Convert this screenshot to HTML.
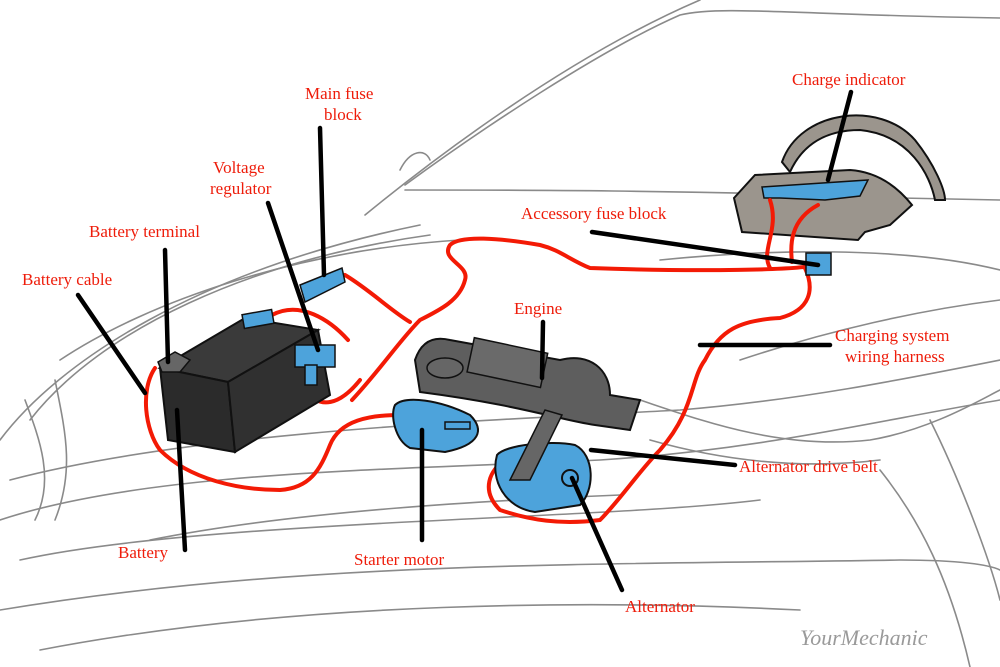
<!DOCTYPE html>
<html><head><meta charset="utf-8"><style>
html,body{margin:0;padding:0;background:#fff}
svg{display:block}
text{font-family:"Liberation Serif",serif;font-size:17px;fill:#ee1c0a}
</style></head><body>
<svg width="1000" height="667" viewBox="0 0 1000 667" xmlns="http://www.w3.org/2000/svg">
<g fill="none" stroke="#8a8a8a" stroke-width="1.6" stroke-linecap="round">
<!-- windshield / roof -->
<path d="M365,215 C420,170 560,60 700,0"/>
<path d="M405,185 C480,130 600,50 680,15 C720,5 800,15 1000,18"/>
<path d="M400,170 C410,150 425,148 430,160"/>
<path d="M405,190 C500,190 700,190 900,198 L1000,200"/>
<!-- hood edges -->
<path d="M0,440 C60,360 200,270 420,225"/>
<path d="M30,420 C100,330 250,260 430,235"/>
<path d="M60,360 C150,300 300,250 460,240"/>
<path d="M660,260 C760,250 900,245 1000,270"/>
<path d="M10,480 C200,430 500,420 680,410 C800,400 900,380 1000,360"/>
<path d="M0,520 C150,470 400,470 600,460 C760,450 880,420 1000,400"/>
<path d="M20,560 C200,520 600,520 760,500"/>
<path d="M0,610 C300,560 600,565 900,560 C960,560 990,565 1000,570"/>
<path d="M40,650 C300,600 600,600 800,610"/>
<path d="M25,400 C40,440 55,480 35,520"/>
<path d="M55,380 C65,430 75,470 55,520"/>
<path d="M640,400 C700,420 780,450 870,440 C930,430 980,400 1000,390"/>
<path d="M650,440 C720,460 800,470 880,460"/>
<path d="M880,470 C920,520 950,580 970,667"/>
<path d="M930,420 C960,480 990,560 1000,600"/>
<path d="M150,540 C300,510 500,500 620,495"/>
<path d="M740,360 C830,330 920,310 1000,300"/>
</g>
<!-- dashboard -->
<path d="M782,162 C800,110 880,100 915,140 C935,165 945,190 945,200 L935,200 C930,175 910,135 860,130 C820,130 800,150 790,172 Z" fill="#9b958d" stroke="#111" stroke-width="2"/>
<path d="M734,198 L755,175 L850,170 C880,172 900,190 912,205 L890,225 L865,232 L858,240 L742,232 Z" fill="#9b958d" stroke="#111" stroke-width="2"/>
<path d="M762,187 L868,180 L860,196 L825,200 L780,198 L764,198 Z" fill="#4da3db" stroke="#111" stroke-width="1.5"/>
<g fill="none" stroke="#f31a05" stroke-width="4" stroke-linecap="round">
<path d="M770,200 C780,230 760,250 770,268"/>
<path d="M818,205 C790,220 790,245 792,262"/>
<path d="M815,265 C800,270 700,272 590,268 C570,260 560,250 540,245 C500,238 460,235 450,245 C440,260 470,265 465,280 C460,300 440,310 420,320 C400,340 380,370 352,400"/>
<path d="M805,268 C815,290 810,310 780,318 C740,320 720,330 705,360 C690,380 695,410 660,450 C640,470 620,500 600,520 C560,525 530,520 500,510 C480,490 490,470 505,460"/>
<path d="M345,275 C370,290 390,310 410,322"/>
<path d="M272,315 C300,300 330,320 348,340"/>
<path d="M305,390 C320,410 340,405 360,380"/>
<path d="M155,368 C140,390 145,430 160,450 C190,480 240,490 280,490 C310,488 320,470 330,445 C340,420 370,415 400,415"/>
</g>
<!-- battery -->
<polygon points="160,368 245,318 318,330 228,382" fill="#3a3a3a" stroke="#111" stroke-width="2"/>
<polygon points="160,368 228,382 235,452 168,440" fill="#2b2b2b" stroke="#111" stroke-width="2"/>
<polygon points="228,382 318,330 330,395 235,452" fill="#303030" stroke="#111" stroke-width="2"/>
<rect x="243" y="312" width="30" height="14" fill="#4da3db" stroke="#111" stroke-width="1.5" transform="rotate(-10 258 319)"/>
<path d="M158,362 L175,352 L190,360 L180,372 L162,372 Z" fill="#666" stroke="#111" stroke-width="1.5"/>
<rect x="295" y="345" width="40" height="22" fill="#4da3db" stroke="#111" stroke-width="1.5"/>
<rect x="305" y="365" width="12" height="20" fill="#4da3db" stroke="#111" stroke-width="1.5"/>
<polygon points="300,285 342,268 345,282 305,302" fill="#4da3db" stroke="#111" stroke-width="1.5"/>
<!-- engine -->
<path d="M415,360 C420,345 430,335 450,340 L560,360 C590,352 610,370 610,395 L640,400 L630,430 L595,425 C560,420 520,405 420,392 Z" fill="#5e5e5e" stroke="#111" stroke-width="2"/>
<rect x="470" y="345" width="75" height="35" fill="#6a6a6a" stroke="#111" stroke-width="1.5" transform="rotate(12 507 362)"/>
<ellipse cx="445" cy="368" rx="18" ry="10" fill="#666" stroke="#111" stroke-width="1.5"/>
<!-- starter -->
<path d="M395,405 C405,395 440,400 470,415 C485,430 480,445 445,452 L410,448 C395,440 390,415 395,405 Z" fill="#4da3db" stroke="#111" stroke-width="2"/>
<rect x="445" y="422" width="25" height="7" fill="#4da3db" stroke="#111" stroke-width="1.5"/>
<!-- alternator -->
<path d="M497,455 C505,445 550,440 575,445 C595,455 595,490 580,505 L535,512 C505,508 490,480 497,455 Z" fill="#4da3db" stroke="#111" stroke-width="2"/>
<circle cx="570" cy="478" r="8" fill="#4da3db" stroke="#111" stroke-width="2"/>
<path d="M510,480 L545,410 L562,415 L530,480 Z" fill="#666" stroke="#111" stroke-width="1.5"/>
<rect x="806" y="253" width="25" height="22" fill="#4da3db" stroke="#111" stroke-width="1.5"/>
<g stroke="#000" stroke-width="4.5" stroke-linecap="round" fill="none">
<line x1="165" y1="250" x2="168" y2="362"/>
<line x1="78" y1="295" x2="145" y2="393"/>
<line x1="268" y1="203" x2="318" y2="350"/>
<line x1="320" y1="128" x2="324" y2="275"/>
<line x1="177" y1="410" x2="185" y2="550"/>
<line x1="422" y1="430" x2="422" y2="540"/>
<line x1="543" y1="322" x2="542" y2="378"/>
<line x1="851" y1="92" x2="828" y2="180"/>
<line x1="592" y1="232" x2="818" y2="265"/>
<line x1="700" y1="345" x2="830" y2="345"/>
<line x1="591" y1="450" x2="735" y2="465"/>
<line x1="572" y1="478" x2="622" y2="590"/>
</g>
<text x="305" y="99">Main fuse</text>
<text x="324" y="120">block</text>
<text x="213" y="173">Voltage</text>
<text x="210" y="194">regulator</text>
<text x="89" y="237">Battery terminal</text>
<text x="22" y="285">Battery cable</text>
<text x="792" y="85">Charge indicator</text>
<text x="521" y="219">Accessory fuse block</text>
<text x="514" y="314">Engine</text>
<text x="835" y="341">Charging system</text>
<text x="845" y="362">wiring harness</text>
<text x="739" y="472">Alternator drive belt</text>
<text x="118" y="558">Battery</text>
<text x="354" y="565">Starter motor</text>
<text x="625" y="612">Alternator</text>
<text x="800" y="645" style="font-family:'Liberation Serif',serif;font-style:italic;font-size:22px;fill:#9a9a9a">YourMechanic</text>
</svg>
</body></html>
